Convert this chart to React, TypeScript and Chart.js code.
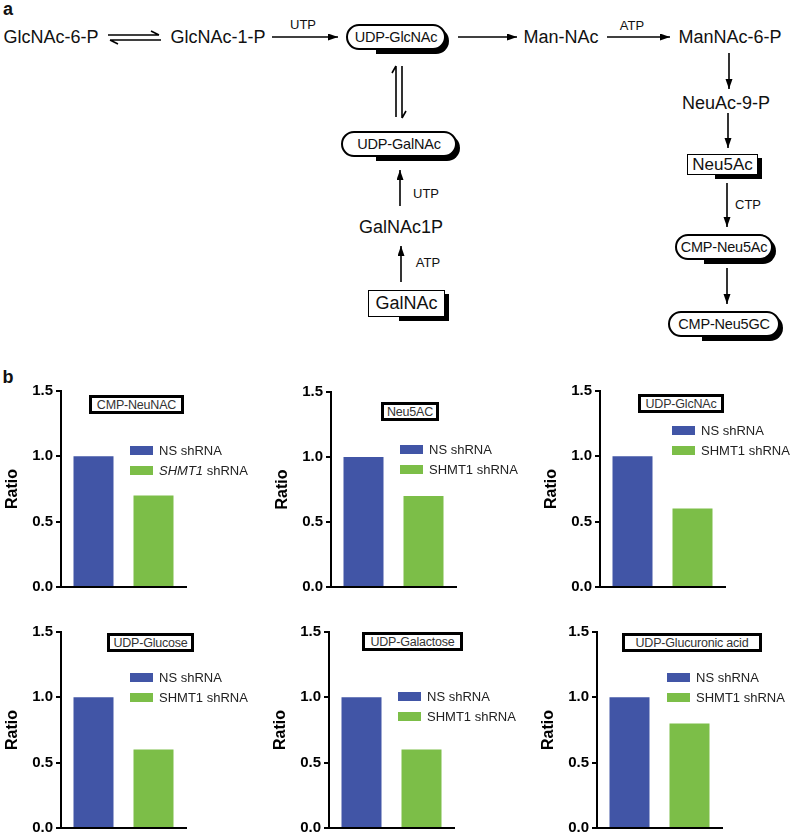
import React, { useEffect, useRef } from 'react';
import { Chart, registerables } from 'chart.js';

Chart.register(...registerables);

const FONT = '"Liberation Sans", Arial, Helvetica, sans-serif';

// ---------- data ----------
const panelTitles = ['CMP-NeuNAC', 'Neu5AC', 'UDP-GlcNAc', 'UDP-Glucose', 'UDP-Galactose', 'UDP-Glucuronic acid'];
const seriesNames = ['NS shRNA', 'SHMT1 shRNA'];
const nsShRNA = [1.0, 1.0, 1.0, 1.0, 1.0, 1.0];
const shmt1ShRNA = [0.7, 0.7, 0.6, 0.6, 0.6, 0.8];
const yTicks = [0, 0.5, 1.0, 1.5];
const yAxisTitle = 'Ratio';
const italicGene = [true, false, false, false, false, false];

// ---------- styles / layout ----------
const BLUE = '#4155a6';
const GREEN = '#7cbe48';

const panelGeom = [
  { axisX: 61, y15: 389, y0: 587 },
  { axisX: 331, y15: 390, y0: 587 },
  { axisX: 600, y15: 389, y0: 587 },
  { axisX: 61, y15: 630, y0: 828 },
  { axisX: 329, y15: 630, y0: 828 },
  { axisX: 597, y15: 630, y0: 828 },
];
const titleBoxes = [
  { left: 89, top: 395, width: 95 },
  { left: 381, top: 402, width: 58 },
  { left: 638, top: 394, width: 86 },
  { left: 107, top: 633, width: 87 },
  { left: 362, top: 632, width: 101 },
  { left: 622, top: 633, width: 140 },
];
const legendPos = [
  { x: 130, y: 450 },
  { x: 400, y: 449 },
  { x: 672, y: 430 },
  { x: 130, y: 677 },
  { x: 398, y: 696 },
  { x: 667, y: 677 },
];

const PLOT_W = 125;
const YAXIS_W = 58;
const PAD_TOP = 10;
const PAD_RIGHT = 4;
const XAXIS_H = 14;

function Panel({ i }: { i: number }) {
  const ref = useRef<HTMLCanvasElement>(null);
  const g = panelGeom[i];
  const W = YAXIS_W + PLOT_W + PAD_RIGHT;
  const H = g.y0 - g.y15 + PAD_TOP + XAXIS_H;
  useEffect(() => {
    const chart = new Chart(ref.current as HTMLCanvasElement, {
      type: 'bar',
      data: {
        labels: [panelTitles[i]],
        datasets: [
          { label: seriesNames[0], data: [nsShRNA[i]], backgroundColor: BLUE, borderWidth: 0, categoryPercentage: 0.96, barPercentage: 2 / 3 },
          { label: seriesNames[1], data: [shmt1ShRNA[i]], backgroundColor: GREEN, borderWidth: 0, categoryPercentage: 0.96, barPercentage: 2 / 3 },
        ],
      },
      options: {
        responsive: false,
        maintainAspectRatio: false,
        animation: false,
        layout: { padding: { top: PAD_TOP, left: 0, right: PAD_RIGHT, bottom: 0 } },
        plugins: { legend: { display: false }, tooltip: { enabled: false }, title: { display: false } },
        scales: {
          x: {
            type: 'category',
            ticks: { display: false },
            grid: { display: false },
            border: { display: true, color: '#000', width: 2 },
            afterFit: (s: any) => { s.height = XAXIS_H; },
          },
          y: {
            min: 0,
            max: 1.5,
            afterBuildTicks: (s: any) => { s.ticks = yTicks.map((v) => ({ value: v })); },
            ticks: {
              color: '#000',
              font: { family: FONT, size: 15, weight: 'bold' },
              padding: 3,
              callback: (v: any) => Number(v).toFixed(1),
            },
            grid: { display: true, drawOnChartArea: false, drawTicks: true, tickLength: 5, color: '#000', lineWidth: 2 },
            border: { display: true, color: '#000', width: 2 },
            title: { display: true, text: yAxisTitle, color: '#000', font: { family: FONT, size: 16, weight: 'bold' }, padding: 0 },
            afterFit: (s: any) => { s.width = YAXIS_W; },
          },
        },
      } as any,
    });
    return () => chart.destroy();
  }, [i]);
  const tb = titleBoxes[i];
  const lg = legendPos[i];
  const colors = [BLUE, GREEN];
  return (
    <>
      <canvas
        ref={ref}
        width={W}
        height={H}
        style={{ position: 'absolute', left: g.axisX - YAXIS_W, top: g.y15 - PAD_TOP, width: W, height: H }}
      />
      <div
        style={{
          position: 'absolute', left: tb.left, top: tb.top, width: tb.width, height: 19, boxSizing: 'border-box',
          border: '3px solid #000', background: '#fff', display: 'flex', alignItems: 'center', justifyContent: 'center',
          fontFamily: FONT, fontSize: 12.5, color: '#333', whiteSpace: 'nowrap', letterSpacing: -0.2,
        }}
      >
        {panelTitles[i]}
      </div>
      {seriesNames.map((name, k) => (
        <div key={k} style={{ position: 'absolute', left: lg.x, top: lg.y + k * 20 - 8, height: 16, display: 'flex', alignItems: 'center', fontFamily: FONT, fontSize: 13, color: '#222', whiteSpace: 'nowrap' }}>
          <span style={{ display: 'inline-block', width: 23, height: 9, background: colors[k], marginRight: 6 }} />
          {k === 1 && italicGene[i] ? (<><i>SHMT1</i>&nbsp;shRNA</>) : name}
        </div>
      ))}
    </>
  );
}

// ---------- diagram helpers ----------
function Lbl({ cx, cy, text, size = 18, bold = false }: { cx: number; cy: number; text: string; size?: number; bold?: boolean }) {
  return (
    <div style={{ position: 'absolute', left: cx, top: cy, transform: 'translate(-50%,-50%)', fontFamily: FONT, fontSize: size, fontWeight: bold ? 'bold' : 'normal', lineHeight: 1, whiteSpace: 'nowrap', color: '#111' }}>
      {text}
    </div>
  );
}

function Pill({ cx, cy, w, h, text, size = 14.5 }: { cx: number; cy: number; w: number; h: number; text: string; size?: number }) {
  const L = cx - w / 2;
  const T = cy - h / 2;
  return (
    <>
      <div style={{ position: 'absolute', left: L + w * 0.3, top: T + 3.5, width: w * 0.7 + 3, height: h, background: '#000', borderRadius: `0 ${h / 2}px ${h / 2}px 0` }} />
      <div style={{ position: 'absolute', left: L, top: T, width: w, height: h, boxSizing: 'border-box', border: '2px solid #000', borderRadius: h / 2, background: '#fff', display: 'flex', alignItems: 'center', justifyContent: 'center', fontFamily: FONT, fontSize: size, whiteSpace: 'nowrap', color: '#111', letterSpacing: -0.2 }}>
        {text}
      </div>
    </>
  );
}

function Box({ left, top, w, h, text, size }: { left: number; top: number; w: number; h: number; text: string; size: number }) {
  return (
    <>
      <div style={{ position: 'absolute', left: left + w * 0.4, top: top + 4, width: w * 0.6 + 4, height: h, background: '#000' }} />
      <div style={{ position: 'absolute', left, top, width: w, height: h, boxSizing: 'border-box', border: '1.5px solid #000', background: '#fff', display: 'flex', alignItems: 'center', justifyContent: 'center', fontFamily: FONT, fontSize: size, whiteSpace: 'nowrap', color: '#111' }}>
        {text}
      </div>
    </>
  );
}

function Diagram() {
  const arrows = [
    [272, 37, 338, 37],
    [458, 37, 517, 37],
    [607, 37, 670, 37],
    [729, 53, 729, 89],
    [728, 113, 728, 148],
    [727, 183, 727, 227],
    [727, 268, 727, 304],
    [400, 206, 400, 170],
    [401, 282, 401, 246],
  ];
  return (
    <>
      <svg width={792} height={360} style={{ position: 'absolute', left: 0, top: 0 }}>
        <defs>
          <marker id="ah" markerWidth="10" markerHeight="8" refX="10" refY="3.5" orient="auto" markerUnits="userSpaceOnUse">
            <path d="M0,0 L10,3.5 L0,7 z" fill="#000" />
          </marker>
        </defs>
        {arrows.map((a, k) => (
          <line key={k} x1={a[0]} y1={a[1]} x2={a[2]} y2={a[3]} stroke="#000" strokeWidth={1.6} markerEnd="url(#ah)" />
        ))}
        <g stroke="#000" strokeWidth={1.6} fill="none">
          <path d="M108,35 H159 M159,35 L151,31" />
          <path d="M110,40 H161 M110,40 L118,44" />
          <path d="M396,117 V66 M396,66 L392,73" />
          <path d="M402,66 V118 M402,118 L406,111" />
        </g>
      </svg>
      <Lbl cx={8} cy={9} text="a" bold size={18} />
      <Lbl cx={51} cy={37} text="GlcNAc-6-P" />
      <Lbl cx={218} cy={37} text="GlcNAc-1-P" />
      <Lbl cx={303} cy={24} text="UTP" size={13} />
      <Pill cx={396} cy={37} w={100} h={26} text="UDP-GlcNAc" />
      <Lbl cx={561} cy={37} text="Man-NAc" />
      <Lbl cx={632} cy={25} text="ATP" size={13} />
      <Lbl cx={730} cy={37} text="ManNAc-6-P" />
      <Lbl cx={726} cy={103} text="NeuAc-9-P" />
      <Box left={687} top={154} w={71} h={21} text="Neu5Ac" size={17} />
      <Lbl cx={748} cy={204} text="CTP" size={13} />
      <Pill cx={724} cy={247} w={98} h={26} text="CMP-Neu5Ac" />
      <Pill cx={724} cy={324} w={112} h={26} text="CMP-Neu5GC" />
      <Pill cx={399} cy={144} w={116} h={26} text="UDP-GalNAc" />
      <Lbl cx={426} cy={193} text="UTP" size={13} />
      <Lbl cx={401} cy={227} text="GalNAc1P" />
      <Lbl cx={428} cy={262} text="ATP" size={13} />
      <Box left={368} top={290} w={77} h={27} text="GalNAc" size={18} />
      <Lbl cx={8} cy={377} text="b" bold size={18} />
    </>
  );
}

export default function App() {
  return (
    <div style={{ position: 'absolute', left: 0, top: 0, width: 792, height: 837, background: '#fff', overflow: 'hidden' }}>
      <Diagram />
      {panelTitles.map((_, i) => (
        <Panel key={i} i={i} />
      ))}
    </div>
  );
}
